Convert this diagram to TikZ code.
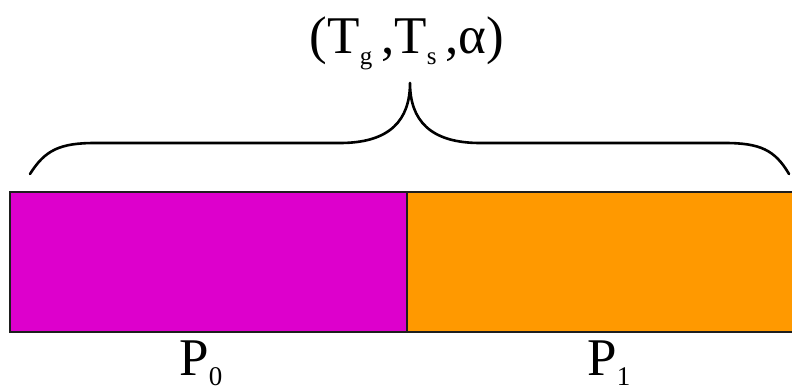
\documentclass[tikz,border=0pt]{standalone}
\usepackage{fontspec}
\setmainfont{Liberation Serif}
\usetikzlibrary{positioning}
\definecolor{pmag}{RGB}{221,0,204}
\definecolor{porange}{RGB}{255,153,0}
\definecolor{pborder}{RGB}{30,30,30}
\newcommand{\lowsub}[1]{\raisebox{-0.22em}{\fontsize{25}{30}\selectfont #1}}
\newcommand{\psub}[1]{\raisebox{-0.2em}{\fontsize{27}{30}\selectfont #1}}
\tikzset{
  partbox/.style={draw=pborder, line width=2pt, minimum height=140pt, inner sep=0pt, outer sep=0pt, anchor=north west},
  biglabel/.style={font=\fontsize{53}{60}\selectfont, inner sep=0pt},
  bracepath/.style={line width=2.6pt, line cap=round, line join=round}
}
\begin{document}
\begin{tikzpicture}[x=1pt,y=-1pt]
\useasboundingbox (0,0) rectangle (792,388);
\node[partbox, fill=pmag, minimum width=397pt] (p0) at (10,192) {};
\node[partbox, fill=porange, minimum width=403pt] (p1) at (407,192) {};
\node[biglabel, anchor=base] (l0) at (201,375) {P\psub{0}};
\node[biglabel, anchor=base] (l1) at (609,375) {P\psub{1}};
\coordinate (bl) at (30,174);
\coordinate (tip) at (410,83);
\coordinate (br) at (789,174);
\draw[bracepath] (bl) .. controls (45,150) and (60,143) .. (95,143) -- (340,143)
  .. controls (390,143) and (410,120) .. (tip)
  .. controls (410,120) and (430,143) .. (480,143) -- (725,143)
  .. controls (760,143) and (775,150) .. (br);
\node[biglabel, anchor=base] (top) at (407,53) {(T\lowsub{g}\,,T\lowsub{s}\,,α)};
\end{tikzpicture}
\end{document}
